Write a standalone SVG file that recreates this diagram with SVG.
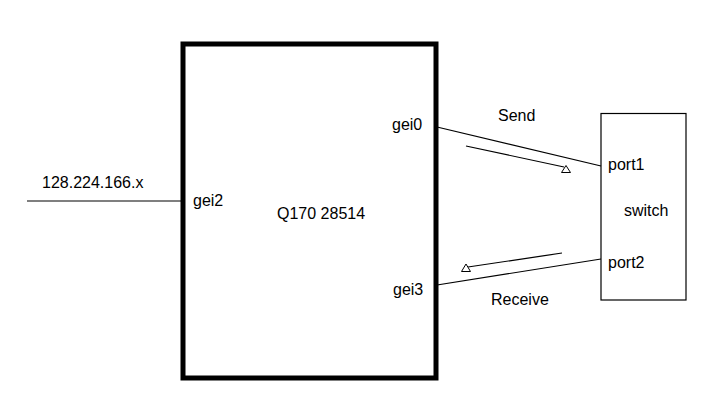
<svg xmlns="http://www.w3.org/2000/svg" width="723" height="415" viewBox="0 0 723 415">
<style>
text{font-family:"Liberation Sans",Arial,sans-serif;font-size:16px;fill:#000}
.thin{stroke:#000;stroke-width:1.2;fill:none}
.tri{stroke:#000;stroke-width:1;fill:#fff}
</style>
<rect width="723" height="415" fill="#fff"/>
<g id="host">
<rect x="183" y="44" width="253" height="334" fill="none" stroke="#000" stroke-width="5"/>
<text x="277" y="219">Q170 28514</text>
<text x="193" y="206">gei2</text>
<text x="392" y="130">gei0</text>
<text x="393" y="295">gei3</text>
</g>
<g id="switch">
<rect x="601" y="113.5" width="85" height="186.5" class="thin"/>
<text x="608" y="170">port1</text>
<text x="624" y="216">switch</text>
<text x="608" y="268">port2</text>
</g>
<g id="net">
<text x="42" y="188">128.224.166.x</text>
</g>
<g id="connectors">
<line x1="27" y1="201" x2="183" y2="201" class="thin"/>
<line x1="437" y1="127" x2="601" y2="166" class="thin"/>
<line x1="437" y1="285" x2="601" y2="259" class="thin"/>
<line x1="466" y1="146" x2="564" y2="167" class="thin"/>
<polygon points="566,165.5 561.5,172.5 570.5,172.5" class="tri"/>
<line x1="562" y1="253" x2="468" y2="267" class="thin"/>
<polygon points="466,264 461.5,271.5 470.5,271.5" class="tri"/>
<text x="498" y="121">Send</text>
<text x="491" y="305">Receive</text>
</g>
</svg>
